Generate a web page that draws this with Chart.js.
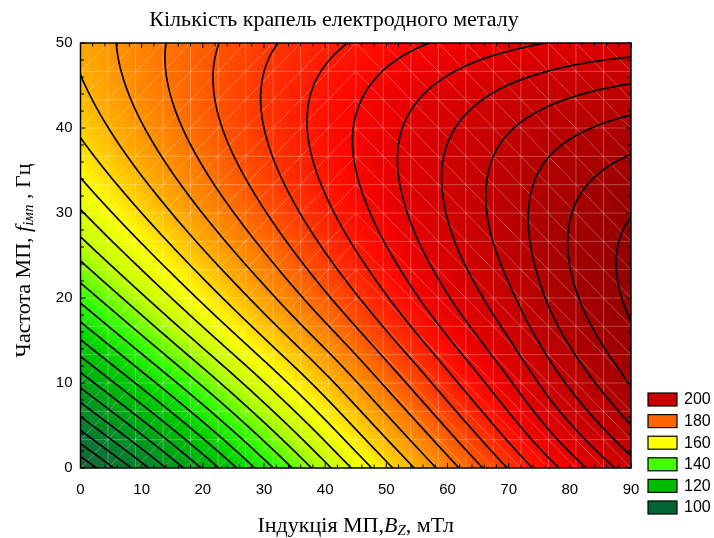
<!DOCTYPE html>
<html>
<head>
<meta charset="utf-8">
<script src="https://cdn.jsdelivr.net/npm/chart.js@4.4.1/dist/chart.umd.min.js"></script>
<style>
  html, body { margin: 0; padding: 0; background: #fff; }
  #wrap { width: 714px; height: 538px; }
</style>
</head>
<body>
<div id="wrap"><canvas id="dropsChart" width="714" height="538"></canvas></div>
<script>
// Induction of the field Bz, mT (grid columns)
const inductionBz = [0, 10, 20, 30, 40, 50, 60, 70, 80, 90];
// Frequency of the field, Hz (grid rows)
const frequencyHz = [0, 10, 20, 30, 40, 50];
// Number of drops, one row per frequency
const drops0  = [80.4, 98.0, 115.5, 132.5, 148.5, 163.5, 177.5, 190.3, 202.0, 212.8];
const drops10 = [111.6, 126.6, 141.0, 154.8, 168.0, 181.0, 193.0, 204.3, 215.8, 225.3];
const drops20 = [136.3, 149.0, 161.2, 172.8, 184.0, 194.6, 204.6, 213.9, 223.8, 230.9];
const drops30 = [154.4, 165.0, 175.1, 184.6, 193.7, 202.2, 210.2, 217.6, 224.8, 229.8];
const drops40 = [166.0, 174.6, 182.6, 190.0, 197.0, 203.4, 209.3, 214.6, 218.8, 221.8];
const drops50 = [171.2, 177.6, 183.5, 188.9, 193.4, 197.6, 200.9, 203.6, 205.8, 207.1];
const dropsGrid = [drops0, drops10, drops20, drops30, drops40, drops50];

const contourStep = 5;
const legendLevels = [200, 180, 160, 140, 120, 100];
const legendColors = ['#cc0000', '#ff6600', '#ffff00', '#44ff00', '#00bb00', '#006633'];

// colour ramp of the filled surface
const colorStops = [
  [75, '#17603a'], [95, '#0b7a32'], [110, '#00a01c'], [125, '#00cc00'],
  [137, '#33ff00'], [149, '#c0ff00'], [160, '#ffff00'], [171, '#ffab00'],
  [180, '#ff7400'], [187, '#ff4800'], [193, '#ff2400'], [198, '#ff0a00'],
  [204, '#e80000'], [210, '#d20000'], [218, '#ba0000'], [226, '#a20000'],
  [235, '#8a0000']
];
const stopRgb = colorStops.map(s => [s[0], parseInt(s[1].slice(1,3),16), parseInt(s[1].slice(3,5),16), parseInt(s[1].slice(5,7),16)]);

function colorFor(v) {
  if (v <= stopRgb[0][0]) return stopRgb[0].slice(1);
  for (let i = 1; i < stopRgb.length; i++) {
    if (v <= stopRgb[i][0]) {
      const a = stopRgb[i-1], b = stopRgb[i];
      const t = (v - a[0]) / (b[0] - a[0]);
      return [a[1] + (b[1]-a[1])*t, a[2] + (b[2]-a[2])*t, a[3] + (b[3]-a[3])*t];
    }
  }
  return stopRgb[stopRgb.length-1].slice(1);
}

// grid padded with one ghost node on each side, for smooth (Catmull-Rom) interpolation
function padRow(r) {
  const n = r.length;
  return [3*r[0]-3*r[1]+r[2]].concat(r, [3*r[n-1]-3*r[n-2]+r[n-3]]);
}
const padded = dropsGrid.map(padRow);
const lowRow = padded[0].map((v, i) => 3*v - 3*padded[1][i] + padded[2][i]);
const m = padded.length;
const highRow = padded[m-1].map((v, i) => 3*v - 3*padded[m-2][i] + padded[m-3][i]);
const ext = [lowRow].concat(padded, [highRow]);

function cr(p0, p1, p2, p3, t) {
  return p1 + 0.5*t*(p2 - p0 + t*(2*p0 - 5*p1 + 4*p2 - p3 + t*(3*(p1 - p2) + p3 - p0)));
}

function surface(xv, yv) {
  const dx = inductionBz[1] - inductionBz[0];
  const dy = frequencyHz[1] - frequencyHz[0];
  const fx = (xv - inductionBz[0]) / dx;
  const fy = (yv - frequencyHz[0]) / dy;
  const i = Math.min(Math.max(Math.floor(fx), 0), inductionBz.length - 2);
  const j = Math.min(Math.max(Math.floor(fy), 0), frequencyHz.length - 2);
  const tx = fx - i, ty = fy - j;
  const col = [];
  for (let k = 0; k < 4; k++) {
    const row = ext[j + k];
    col.push(cr(row[i], row[i+1], row[i+2], row[i+3], tx));
  }
  return cr(col[0], col[1], col[2], col[3], ty);
}

const contourPlugin = {
  id: 'contour',
  beforeDatasetsDraw(chart) {
    const {ctx, chartArea: a, scales: {x, y}} = chart;
    const w = Math.round(a.right - a.left), h = Math.round(a.bottom - a.top);

    // filled surface
    const off = document.createElement('canvas');
    off.width = w; off.height = h;
    const octx = off.getContext('2d');
    const img = octx.createImageData(w, h);
    for (let py = 0; py < h; py++) {
      const yv = y.getValueForPixel(a.top + py + 0.5);
      for (let px = 0; px < w; px++) {
        const c = colorFor(surface(x.getValueForPixel(a.left + px + 0.5), yv));
        const k = (py*w + px)*4;
        img.data[k] = c[0]; img.data[k+1] = c[1]; img.data[k+2] = c[2]; img.data[k+3] = 255;
      }
    }
    octx.putImageData(img, 0, 0);
    ctx.save();
    ctx.beginPath();
    ctx.rect(a.left, a.top, a.right - a.left, a.bottom - a.top);
    ctx.clip();
    ctx.drawImage(off, a.left, a.top);

    // faint mesh of the surface
    ctx.strokeStyle = 'rgba(255,255,255,0.28)';
    ctx.lineWidth = 1;
    ctx.beginPath();
    const nx = 20, ny = 15;
    for (let i = 0; i < nx; i++) {
      for (let j = 0; j < ny; j++) {
        const x0 = 90*i/nx, x1 = 90*(i+1)/nx, y0 = 50*j/ny, y1 = 50*(j+1)/ny;
        const X0 = x.getPixelForValue(x0), X1 = x.getPixelForValue(x1);
        const Y0 = y.getPixelForValue(y0), Y1 = y.getPixelForValue(y1);
        ctx.moveTo(X0, Y0); ctx.lineTo(X1, Y0);
        ctx.moveTo(X0, Y0); ctx.lineTo(X0, Y1);
        if (x0 < 45) { ctx.moveTo(X0, Y0); ctx.lineTo(X1, Y1); }
        else { ctx.moveTo(X0, Y1); ctx.lineTo(X1, Y0); }
      }
    }
    ctx.stroke();

    // contour lines (marching squares on a fine sample)
    const N = Math.round(w/2), M = Math.round(h/2);
    const gx = [], gy = [], vals = [];
    for (let i = 0; i <= N; i++) gx.push(a.left + (a.right - a.left)*i/N);
    for (let j = 0; j <= M; j++) gy.push(a.top + (a.bottom - a.top)*j/M);
    let vmin = Infinity, vmax = -Infinity;
    for (let j = 0; j <= M; j++) {
      const row = [];
      const yv = y.getValueForPixel(gy[j]);
      for (let i = 0; i <= N; i++) {
        const v = surface(x.getValueForPixel(gx[i]), yv);
        row.push(v);
        if (v < vmin) vmin = v;
        if (v > vmax) vmax = v;
      }
      vals.push(row);
    }
    ctx.strokeStyle = '#000';
    ctx.lineWidth = 1.7;
    ctx.lineCap = 'round';
    ctx.beginPath();
    for (let L = Math.ceil(vmin/contourStep)*contourStep; L <= vmax; L += contourStep) {
      for (let j = 0; j < M; j++) {
        for (let i = 0; i < N; i++) {
          const c = [[gx[i], gy[j], vals[j][i]], [gx[i+1], gy[j], vals[j][i+1]],
                     [gx[i+1], gy[j+1], vals[j+1][i+1]], [gx[i], gy[j+1], vals[j+1][i]]];
          const pts = [];
          for (let e = 0; e < 4; e++) {
            const p = c[e], q = c[(e+1)%4];
            if ((p[2] - L)*(q[2] - L) < 0) {
              const t = (L - p[2])/(q[2] - p[2]);
              pts.push([p[0] + (q[0]-p[0])*t, p[1] + (q[1]-p[1])*t]);
            }
          }
          if (pts.length >= 2) { ctx.moveTo(pts[0][0], pts[0][1]); ctx.lineTo(pts[1][0], pts[1][1]); }
          if (pts.length === 4) { ctx.moveTo(pts[2][0], pts[2][1]); ctx.lineTo(pts[3][0], pts[3][1]); }
        }
      }
    }
    ctx.stroke();
    ctx.restore();

    // frame and inward ticks
    ctx.save();
    ctx.strokeStyle = '#000';
    ctx.lineWidth = 1.5;
    ctx.strokeRect(a.left, a.top, a.right - a.left, a.bottom - a.top);
    ctx.lineWidth = 1;
    ctx.beginPath();
    for (let v = 0; v <= 90; v += 2) {
      const X = x.getPixelForValue(v);
      const len = v % 10 === 0 ? 5 : 3.5;
      ctx.moveTo(X, a.bottom); ctx.lineTo(X, a.bottom - len);
      ctx.moveTo(X, a.top); ctx.lineTo(X, a.top + len);
    }
    for (let v = 0; v <= 50; v += 2) {
      const Y = y.getPixelForValue(v);
      const len = v % 10 === 0 ? 5 : 3.5;
      ctx.moveTo(a.left, Y); ctx.lineTo(a.left + len, Y);
      ctx.moveTo(a.right, Y); ctx.lineTo(a.right - len, Y);
    }
    ctx.stroke();
    ctx.restore();
  },
  afterDraw(chart) {
    const {ctx, chartArea: a} = chart;
    ctx.save();
    ctx.fillStyle = '#000';
    ctx.textBaseline = 'middle';

    // title
    ctx.font = '22px "Liberation Serif"';
    ctx.textAlign = 'center';
    ctx.fillText('Кількість крапель електродного металу', 334, 20);

    // rich text helper (italic symbols with subscripts)
    function rich(parts, cx, cy) {
      ctx.textAlign = 'left';
      let total = 0;
      parts.forEach(p => { ctx.font = p.f; p.w = ctx.measureText(p.t).width; total += p.w; });
      let xx = cx - total/2;
      parts.forEach(p => { ctx.font = p.f; ctx.fillText(p.t, xx, cy + (p.dy || 0)); xx += p.w; });
    }
    const reg = '22px "Liberation Serif"', ital = 'italic 22px "Liberation Serif"', sub = 'italic 15px "Liberation Serif"';
    const midX = (a.left + a.right)/2;
    rich([{t: 'Індукція МП,', f: reg}, {t: 'B', f: ital}, {t: 'Z', f: sub, dy: 5}, {t: ', мТл', f: reg}], midX, 526);

    ctx.save();
    ctx.translate(24, (a.top + a.bottom)/2 + 5);
    ctx.rotate(-Math.PI/2);
    rich([{t: 'Частота МП, ', f: reg}, {t: 'f', f: ital}, {t: 'імп', f: sub, dy: 5}, {t: ' , Гц', f: reg}], 0, 0);
    ctx.restore();

    // legend
    ctx.font = '16px "Liberation Sans"';
    ctx.textAlign = 'left';
    legendLevels.forEach((lv, i) => {
      const top = 393 + i*21.6;
      ctx.fillStyle = legendColors[i];
      ctx.fillRect(648, top, 29, 13);
      ctx.strokeStyle = '#000';
      ctx.lineWidth = 1.2;
      ctx.strokeRect(648, top, 29, 13);
      ctx.fillStyle = '#000';
      ctx.fillText(String(lv), 684, top + 7);
    });
    ctx.restore();
  }
};

new Chart('dropsChart', {
  type: 'scatter',
  data: { datasets: [] },
  options: {
    responsive: false,
    animation: false,
    devicePixelRatio: 1,
    layout: { padding: { top: 43, right: 83, left: 0, bottom: 0 } },
    plugins: { legend: { display: false }, tooltip: { enabled: false } },
    scales: {
      x: {
        type: 'linear', min: 0, max: 90,
        grid: { display: false, drawTicks: false },
        border: { display: false },
        ticks: { stepSize: 10, color: '#000', padding: 13, font: { family: 'Liberation Sans', size: 15 } },
        afterFit: s => { s.height = 70; }
      },
      y: {
        type: 'linear', min: 0, max: 50,
        grid: { display: false, drawTicks: false },
        border: { display: false },
        ticks: { stepSize: 10, color: '#000', padding: 8, font: { family: 'Liberation Sans', size: 15 } },
        afterFit: s => { s.width = 80.5; }
      }
    }
  },
  plugins: [contourPlugin]
});
</script>
</body>
</html>
